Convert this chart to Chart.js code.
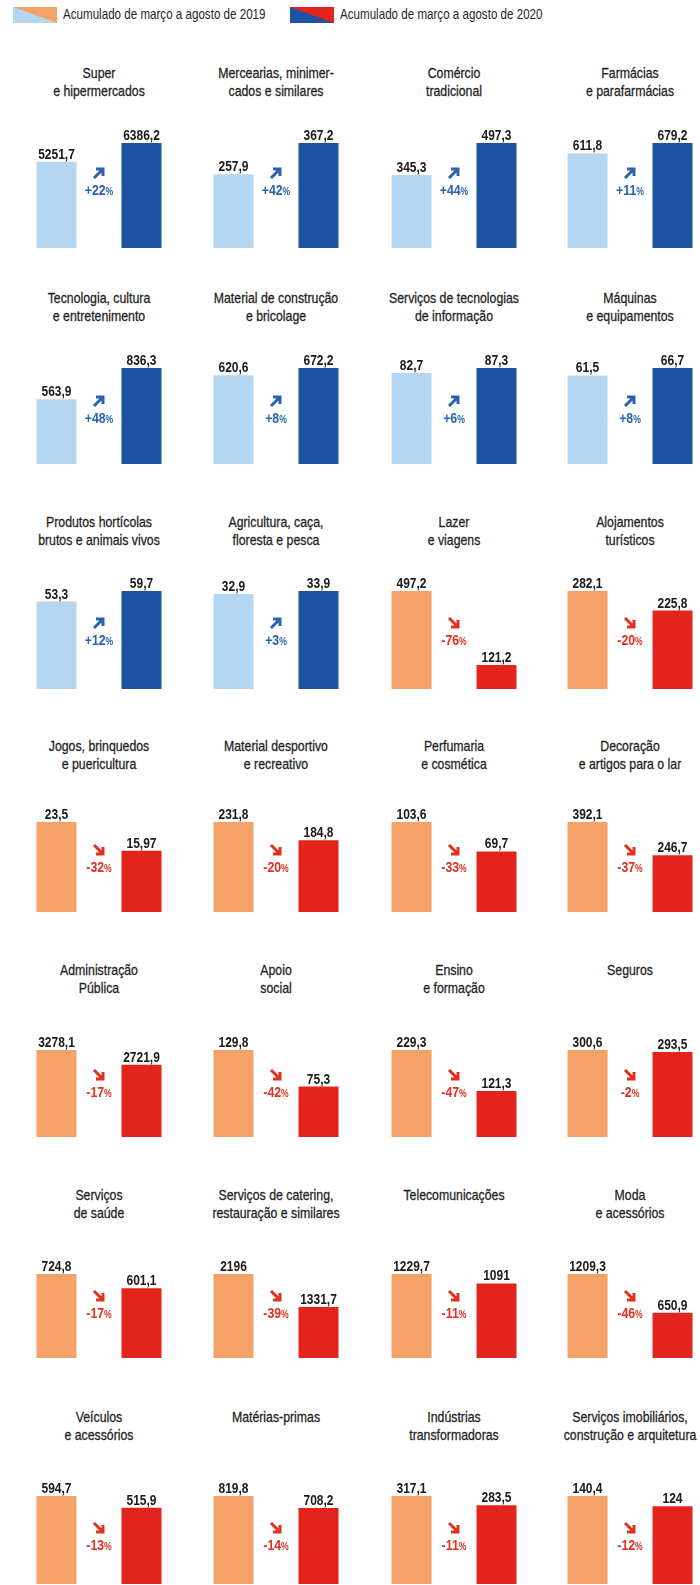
<!DOCTYPE html>
<html>
<head>
<meta charset="utf-8">
<script src="https://cdn.jsdelivr.net/npm/chart.js@4"></script>
<style>
  html, body { margin: 0; padding: 0; background: #fff; }
  body { width: 700px; height: 1585px; overflow: hidden; position: relative;
         font-family: 'Liberation Sans', Arial, sans-serif; color: #1f1f1f; }
  .legend { position: absolute; top: 7px; height: 16px; }
  .sw { position: absolute; left: 0; top: 0; width: 44px; height: 16px; }
  .legend span { position: absolute; left: 50px; top: -1px; white-space: nowrap; font-size: 14.5px;
                 transform: scaleX(0.8); transform-origin: left center; }
  .title { position: absolute; width: 230px; text-align: center; font-size: 15px; line-height: 17.5px;
           transform: scaleX(0.82); -webkit-text-stroke: 0.3px #1f1f1f; }
  canvas { position: absolute; }
</style>
</head>
<body>
<div class="legend" style="left:13px">
  <div class="sw" style="background:linear-gradient(to top right,#b5d6f0 50%,#f4a268 50%)"></div>
  <span>Acumulado de março a agosto de 2019</span>
</div>
<div class="legend" style="left:290px">
  <div class="sw" style="background:linear-gradient(to top right,#1d53a2 50%,#e2241c 50%)"></div>
  <span>Acumulado de março a agosto de 2020</span>
</div>
<div id="grid"></div>
<script>
// -----------------------
// Data
// -----------------------
const titles = [
  ['Super', 'e hipermercados'], ['Mercearias, minimer-', 'cados e similares'], ['Comércio', 'tradicional'], ['Farmácias', 'e parafarmácias'],
  ['Tecnologia, cultura', 'e entretenimento'], ['Material de construção', 'e bricolage'], ['Serviços de tecnologias', 'de informação'], ['Máquinas', 'e equipamentos'],
  ['Produtos hortícolas', 'brutos e animais vivos'], ['Agricultura, caça,', 'floresta e pesca'], ['Lazer', 'e viagens'], ['Alojamentos', 'turísticos'],
  ['Jogos, brinquedos', 'e puericultura'], ['Material desportivo', 'e recreativo'], ['Perfumaria', 'e cosmética'], ['Decoração', 'e artigos para o lar'],
  ['Administração', 'Pública'], ['Apoio', 'social'], ['Ensino', 'e formação'], ['Seguros'],
  ['Serviços', 'de saúde'], ['Serviços de catering,', 'restauração e similares'], ['Telecomunicações'], ['Moda', 'e acessórios'],
  ['Veículos', 'e acessórios'], ['Matérias-primas'], ['Indústrias', 'transformadoras'], ['Serviços imobiliários,', 'construção e arquitetura']
];
const periods = ['2019', '2020'];
const values2019 = [5251.7, 257.9, 345.3, 611.8, 563.9, 620.6, 82.7, 61.5, 53.3, 32.9, 497.2, 282.1, 23.5, 231.8, 103.6, 392.1,
  3278.1, 129.8, 229.3, 300.6, 724.8, 2196, 1229.7, 1209.3, 594.7, 819.8, 317.1, 140.4];
const values2020 = [6386.2, 367.2, 497.3, 679.2, 836.3, 672.2, 87.3, 66.7, 59.7, 33.9, 121.2, 225.8, 15.97, 184.8, 69.7, 246.7,
  2721.9, 75.3, 121.3, 293.5, 601.1, 1331.7, 1091, 650.9, 515.9, 708.2, 283.5, 124];
const changes = [22, 42, 44, 11, 48, 8, 6, 8, 12, 3, -76, -20, -32, -20, -33, -37, -17, -42, -47, -2, -17, -39, -11, -46, -13, -14, -11, -12];

// -----------------------
// Layout / style
// -----------------------
const COL_X = [36, 213, 391, 567];                          // left edge of the 2019 bar
const ROW_BASE = [248, 464, 689, 912, 1137, 1358, 1584];     // bar baseline per row
const ROW_BAR_H = [105, 96, 98, 90, 87, 84, 88];             // height of the taller bar
const ROW_TITLE = [73, 298, 522, 746, 970, 1195, 1417];      // centre of first title line
const ROW_PCT = [58, 46, 49, 45, 45, 45, 39];                // percentage centre above baseline
const UP = { light: '#b5d6f0', dark: '#1d53a2', text: '#2a62b2' };
const DOWN = { light: '#f4a268', dark: '#e2241c', text: '#e2301f' };
const CW = 170, PAD_TOP = 24;
const FONT = "'Liberation Sans', Arial, sans-serif";

const fmt = v => String(v).replace('.', ',');

function squeezeText(ctx, text, x, y, font, sx, align) {
  ctx.save();
  ctx.font = font;
  ctx.textAlign = align || 'center';
  ctx.translate(x, y);
  ctx.scale(sx, 1);
  ctx.fillText(text, 0, 0);
  ctx.restore();
}

function drawArrow(ctx, x, y, up, color) {
  ctx.save();
  ctx.strokeStyle = color;
  ctx.lineWidth = 3;
  ctx.beginPath();
  if (up) {
    ctx.moveTo(x - 4, y + 5); ctx.lineTo(x + 4, y - 3);
    ctx.moveTo(x - 2, y - 4); ctx.lineTo(x + 5, y - 4); ctx.lineTo(x + 5, y + 3);
  } else {
    ctx.moveTo(x - 4, y - 5); ctx.lineTo(x + 4, y + 3);
    ctx.moveTo(x - 2, y + 4); ctx.lineTo(x + 5, y + 4); ctx.lineTo(x + 5, y - 3);
  }
  ctx.stroke();
  ctx.restore();
}

const panelDecor = {
  id: 'panelDecor',
  afterDatasetsDraw(chart, args, opts) {
    const ctx = chart.ctx;
    const bars = chart.getDatasetMeta(0).data;
    const base = chart.chartArea.bottom;
    // baseline
    ctx.save();
    ctx.strokeStyle = '#4d4d4d';
    ctx.lineWidth = 2;
    ctx.beginPath();
    ctx.moveTo(bars[0].x - bars[0].width / 2 - 6, base + 1);
    ctx.lineTo(bars[1].x + bars[1].width / 2 + 12, base + 1);
    ctx.stroke();
    // value labels
    ctx.fillStyle = '#1a1a1a';
    ctx.textBaseline = 'alphabetic';
    const vals = chart.data.datasets[0].data;
    bars.forEach((b, i) => squeezeText(ctx, fmt(vals[i]), b.x, b.y - 3, 'bold 15px ' + FONT, 0.8));
    // change arrow + percentage
    const mid = (bars[0].x + bars[1].x) / 2;
    const ch = opts.change;
    const col = ch >= 0 ? UP.text : DOWN.text;
    const py = base - opts.pctY + 5;
    drawArrow(ctx, mid - 1, py - 22, ch >= 0, col);
    ctx.fillStyle = col;
    const num = (ch >= 0 ? '+' : '') + ch;
    ctx.font = 'bold 15px ' + FONT;
    const wNum = ctx.measureText(num).width * 0.82;
    ctx.font = 'bold 10.5px ' + FONT;
    const wPct = ctx.measureText('%').width * 0.82;
    const x0 = mid - (wNum + wPct) / 2;
    squeezeText(ctx, num, x0, py, 'bold 15px ' + FONT, 0.82, 'left');
    squeezeText(ctx, '%', x0 + wNum, py, 'bold 10.5px ' + FONT, 0.82, 'left');
    ctx.restore();
  }
};

function initPanels() {
  const grid = document.getElementById('grid');
  titles.forEach((t, i) => {
    const c = i % 4, r = Math.floor(i / 4);
    const base = ROW_BASE[r];
    const barH = ROW_BAR_H[r];
    const cx = COL_X[c] + 62.5;

    const title = document.createElement('div');
    title.className = 'title';
    title.style.left = (cx - 115) + 'px';
    title.style.top = (ROW_TITLE[r] - 8.75) + 'px';
    title.innerHTML = t.join('<br>');
    grid.appendChild(title);

    const canvas = document.createElement('canvas');
    canvas.width = CW; canvas.height = barH + PAD_TOP;
    canvas.style.left = (COL_X[c] - 22.5) + 'px';
    canvas.style.top = (base - barH - PAD_TOP) + 'px';
    grid.appendChild(canvas);

    const v = [values2019[i], values2020[i]];
    const pal = changes[i] >= 0 ? UP : DOWN;
    new Chart(canvas.getContext('2d'), {
      type: 'bar',
      data: {
        labels: periods,
        datasets: [{ data: v, backgroundColor: [pal.light, pal.dark], borderWidth: 0,
                     barPercentage: 40 / 85, categoryPercentage: 1 }]
      },
      options: {
        responsive: false,
        animation: false,
        devicePixelRatio: 1,
        layout: { padding: { top: PAD_TOP, bottom: 0, left: 0, right: 0 } },
        plugins: {
          legend: { display: false },
          tooltip: { enabled: false },
          panelDecor: { change: changes[i], pctY: ROW_PCT[r] }
        },
        scales: {
          x: { display: false, offset: true },
          y: { display: false, min: 0, max: Math.max(...v) }
        }
      },
      plugins: [panelDecor]
    });
  });
}

document.addEventListener('DOMContentLoaded', initPanels);
</script>
</body>
</html>
